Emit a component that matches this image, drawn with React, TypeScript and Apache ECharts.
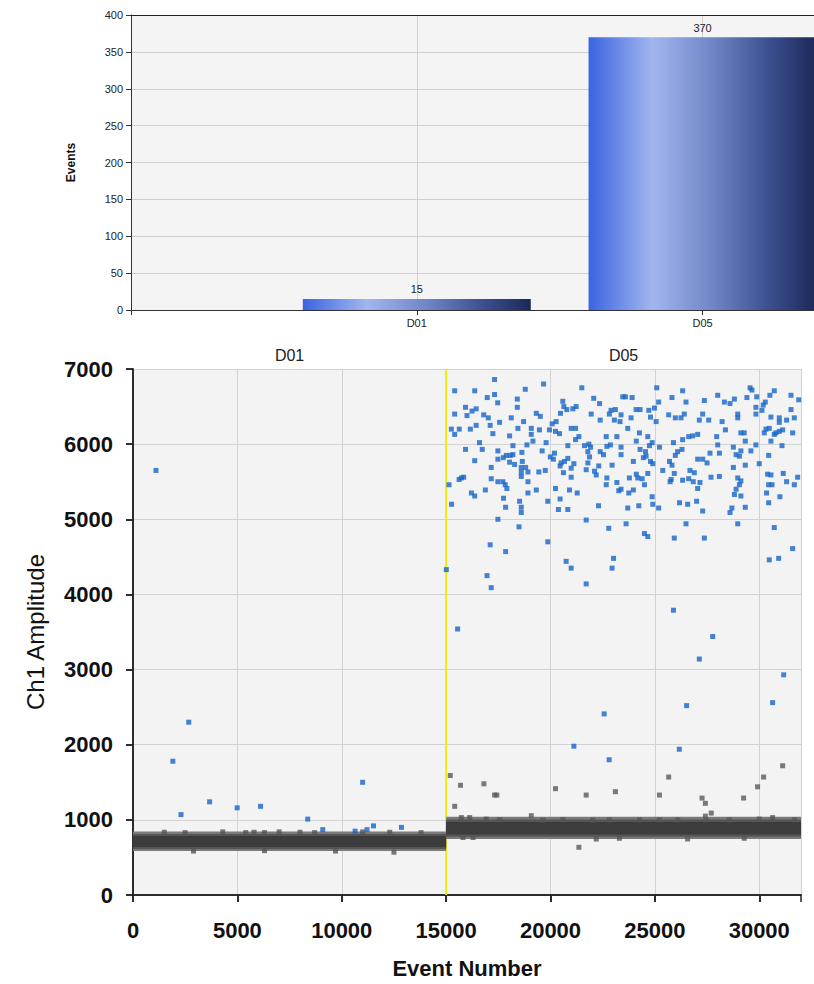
import React, { useEffect, useRef } from 'react';
import * as echarts from 'echarts';

// ---------- data ----------
const wells = ['D01', 'D05'];
const wellEvents = [15, 370];
const wellStart = [0, 15000];
const wellEnd = [15000, 32000];

// negative droplet band (low, high) per well, three density layers
const bandOuter = [[585, 845], [745, 1040]];
const bandMid = [[612, 812], [775, 1005]];
const bandCore = [[640, 785], [805, 970]];

const d01Positive: number[][] = [
  [1100, 5650], [1910, 1780], [2300, 1070], [2670, 2300], [3670, 1240], [4990, 1160], [6110, 1180],
  [8370, 1010], [9090, 870], [10640, 850], [11000, 1500], [11210, 870], [11520, 920], [12860, 900],
];

const d05Positive: number[][] = [
  [17320, 6860], [15410, 6710], [16370, 6710], [18790, 6730], [16970, 6620], [17320, 6660], [18410, 6600], [17470, 6550],
  [15930, 6490], [16440, 6470], [16240, 6440], [16000, 6380], [15410, 6400], [16800, 6390], [17020, 6350], [18410, 6490],
  [18120, 6350], [18710, 6300], [17560, 6290], [16440, 6250], [17110, 6250], [15250, 6200], [15630, 6200], [16160, 6200],
  [15410, 6130], [17240, 6140], [18440, 6210], [19080, 6210], [18040, 6110], [19080, 6130], [19160, 6040], [16600, 6020],
  [18870, 5990], [18200, 5980], [15930, 5930], [16730, 5930], [17480, 5910], [18630, 5890], [17880, 5850], [18070, 5850],
  [18200, 5860], [17740, 5820], [17480, 5800], [16370, 5780], [18040, 5760], [18650, 5770], [18280, 5730], [17160, 5690],
  [18600, 5690], [18810, 5690], [18600, 5630], [18920, 5630], [18600, 5570], [15730, 5550], [15840, 5560], [15620, 5530],
  [17160, 5540], [17480, 5500], [17720, 5500], [17830, 5460], [18920, 5500], [15140, 5460], [17910, 5410], [16880, 5390],
  [16210, 5350], [16370, 5310], [18920, 5350], [17750, 5280], [18520, 5240], [17850, 5160], [18600, 5160], [18600, 5090],
  [15260, 5200], [17480, 5000], [18490, 4900], [17110, 4660], [17850, 4570],
  [19870, 4700], [15010, 4330], [20750, 4440], [20990, 4350], [23020, 4480], [22950, 4350], [16960, 4250], [17160, 4090],
  [21710, 4140], [30480, 4460], [30930, 4480], [31600, 4610], [25890, 3790], [15550, 3540], [27770, 3440], [27130, 3140],
  [31170, 2930], [30640, 2560], [26520, 2520], [22570, 2410], [21120, 1980], [22810, 1800], [26170, 1940],
  [19670, 6800], [21500, 6750], [22070, 6610], [20590, 6570], [22350, 6540], [23460, 6630], [20640, 6500], [21230, 6500],
  [21070, 6470], [20780, 6460], [20480, 6410], [21950, 6400], [22900, 6450], [23110, 6460], [22820, 6400], [23380, 6390],
  [19320, 6410], [19510, 6370], [20270, 6300], [20080, 6270], [22380, 6320], [23060, 6320], [23330, 6300], [20990, 6210],
  [21200, 6210], [19950, 6190], [20240, 6170], [20430, 6140], [19470, 6190], [21360, 6100], [21200, 6060], [22670, 6100],
  [23180, 6100], [19790, 6020], [20830, 5980], [21630, 5980], [21840, 6000], [21920, 5960], [22870, 5990], [22700, 5970],
  [23380, 5960], [19600, 5910], [21790, 5900], [22380, 5900], [22540, 5860], [23380, 5860], [20190, 5880], [19990, 5830],
  [20140, 5800], [20830, 5810], [21870, 5830], [20510, 5750], [20670, 5770], [21120, 5740], [21790, 5750], [22310, 5710],
  [22950, 5720], [20460, 5710], [20990, 5680], [21710, 5660], [22110, 5640], [19440, 5630], [19750, 5650], [20620, 5620],
  [20990, 5560], [22190, 5590], [22700, 5550], [22670, 5460], [23180, 5490], [20240, 5410], [20910, 5390], [21280, 5350],
  [23270, 5380], [23380, 5400], [19320, 5390], [20460, 5270], [19870, 5240], [20380, 5130], [20830, 5130], [22300, 5180],
  [21710, 4990], [22790, 4880],
  [25090, 6750], [26330, 6710], [23590, 6630], [23910, 6620], [25820, 6620], [27370, 6580], [25180, 6560], [26490, 6560],
  [24980, 6480], [24100, 6460], [24290, 6460], [24710, 6450], [27290, 6400], [25660, 6390], [26410, 6400], [25980, 6350],
  [26250, 6350], [24790, 6360], [23860, 6350], [27130, 6320], [27580, 6320], [25060, 6300], [23700, 6210], [24260, 6150],
  [24660, 6100], [26620, 6100], [26810, 6110], [27050, 6130], [26330, 6060], [24110, 6040], [24870, 6020], [25890, 6020],
  [24740, 5980], [25220, 5960], [26300, 5930], [26090, 5900], [27640, 5880], [24550, 5900], [24290, 5930], [24580, 5840],
  [25980, 5850], [27050, 5800], [27290, 5800], [23970, 5770], [24450, 5820], [24790, 5770], [24900, 5740], [25700, 5770],
  [27500, 5750], [25820, 5720], [25380, 5650], [26680, 5650], [26890, 5620], [25930, 5610], [24660, 5610], [24110, 5600],
  [23780, 5550], [24180, 5550], [24390, 5540], [25780, 5530], [26330, 5520], [26620, 5540], [26840, 5500], [27160, 5490],
  [27690, 5560], [25730, 5500], [24500, 5460], [27050, 5410], [23970, 5390], [23750, 5350], [24870, 5300], [27000, 5240],
  [26180, 5220], [26570, 5200], [24230, 5180], [24900, 5200], [25180, 5150], [23700, 5150], [27290, 5110], [23620, 4940],
  [26490, 4940], [24500, 4810], [24660, 4770], [25930, 4750], [27370, 4750],
  [29560, 6750], [29650, 6720], [30720, 6710], [28010, 6650], [31520, 6650], [31890, 6590], [28810, 6600], [28600, 6540],
  [28330, 6560], [29410, 6620], [29880, 6630], [30510, 6650], [30290, 6560], [30190, 6520], [29840, 6490], [31520, 6460],
  [30130, 6450], [28970, 6400], [28970, 6350], [29840, 6400], [30560, 6360], [30960, 6350], [30960, 6290], [31310, 6320],
  [31680, 6350], [28220, 6300], [31600, 6150], [28380, 6190], [30320, 6200], [30480, 6210], [31120, 6190], [30800, 6150],
  [30960, 6170], [29120, 6150], [29280, 6150], [30240, 6150], [30720, 6130], [27960, 6100], [29330, 6040], [30560, 6040],
  [28010, 5990], [29840, 5990], [31090, 5980], [28760, 5960], [29120, 5910], [29600, 5910], [28090, 5880], [28890, 5860],
  [29050, 5840], [30450, 5850], [30000, 5740], [29330, 5720], [28760, 5690], [28090, 5570], [30400, 5600], [30560, 5590],
  [31150, 5610], [31840, 5560], [28970, 5550], [29120, 5510], [29050, 5460], [30450, 5460], [30610, 5460], [31310, 5500],
  [31680, 5460], [28890, 5400], [28810, 5330], [29120, 5310], [30350, 5350], [30990, 5300], [30450, 5220], [29330, 5160],
  [28690, 5150], [28600, 5090], [28970, 4940], [30720, 4890],
];

const negativeOutliers: number[][] = [
  [15200, 1590], [15690, 1460], [15410, 1180], [16810, 1480], [17320, 1330], [17430, 1330], [20240, 1415], [21710, 1330],
  [21360, 635], [23110, 1375], [25220, 1330], [25660, 1570], [26570, 745], [27260, 1290], [27420, 1220], [27420, 1050],
  [27700, 1090], [29250, 1290], [29920, 1440], [30210, 1570], [31120, 1720], [19080, 1055],
];

const bandEdgePoints: number[][] = [
  [1500, 835], [2500, 830], [4300, 840], [5400, 830], [5800, 835], [6300, 830], [7000, 840], [8000, 835], [8700, 830],
  [11000, 840], [12300, 835], [13800, 830], [2900, 585], [6300, 590], [9700, 585], [12500, 570],
  [15730, 1030], [16130, 1030], [16920, 1010], [17560, 1000], [19630, 995], [20590, 1000], [22030, 995], [22820, 1000],
  [24260, 1000], [25220, 1000], [26100, 1000], [27450, 1000], [28570, 1000], [30000, 1010], [30640, 1030], [31680, 1000],
  [15810, 765], [16290, 765], [22190, 745], [23300, 755], [29280, 755],
];

// ---------- component ----------
export default function App() {
  const ref = useRef<HTMLDivElement>(null);

  useEffect(() => {
    if (!ref.current) return;
    const chart = echarts.init(ref.current, null, { renderer: 'svg' });

    const barGradient = new echarts.graphic.LinearGradient(0, 0, 1, 0, [
      { offset: 0, color: '#3a64e2' },
      { offset: 0.28, color: '#a2b6ee' },
      { offset: 0.55, color: '#6e84c6' },
      { offset: 0.8, color: '#3a4e8e' },
      { offset: 1, color: '#1b2959' },
    ]);

    const bandRows: number[][] = [];
    const layers = [bandOuter, bandMid, bandCore];
    layers.forEach((layer, li) => {
      wells.forEach((_, wi) => {
        bandRows.push([wellStart[wi], wellEnd[wi], layer[wi][0], layer[wi][1], li]);
      });
    });
    const layerColors = ['#7a7a7a', '#555555', '#3c3c3c'];

    const font = 'Liberation Sans, Arial, sans-serif';
    const plain = (v: number) => String(v);
    const wellPositions = wells.map((_, i) => i + 1);

    const option: any = {
      animation: false,
      backgroundColor: '#ffffff',
      grid: [
        { left: 131, right: 0, top: 15, bottom: 674, show: true, backgroundColor: '#f4f4f4', borderWidth: 0 },
        { left: 133, right: 13, top: 369, bottom: 86, show: true, backgroundColor: '#f3f3f3', borderWidth: 0 },
      ],
      xAxis: [
        {
          gridIndex: 0, type: 'value', min: 0, max: 2.39, interval: 1,
          axisLine: { show: true, lineStyle: { color: '#333', width: 1 } },
          axisTick: { show: true, length: 5, customValues: [0].concat(wellPositions), lineStyle: { color: '#333' } },
          axisLabel: {
            fontFamily: font, fontSize: 11, color: '#222', margin: 7,
            customValues: wellPositions,
            formatter: (v: number) => wells[v - 1] ?? '',
          },
          splitLine: { show: true, lineStyle: { color: '#cfcfcf' } },
        },
        {
          gridIndex: 0, type: 'value', position: 'top', min: 0, max: 2.39,
          axisLine: { show: true, lineStyle: { color: '#222', width: 1 } },
          axisTick: { show: false }, axisLabel: { show: false }, splitLine: { show: false },
        },
        {
          gridIndex: 1, type: 'value', min: 0, max: 32000, interval: 5000,
          name: 'Event Number', nameLocation: 'middle', nameGap: 62,
          nameTextStyle: { fontFamily: font, fontSize: 22, fontWeight: 'bold', color: '#111' },
          axisLine: { show: true, lineStyle: { color: '#222', width: 1.5 } },
          axisTick: { show: true, length: 7, lineStyle: { color: '#222', width: 1.5 } },
          axisLabel: {
            fontFamily: font, fontSize: 22, fontWeight: 'bold', color: '#111', margin: 24,
            showMaxLabel: false, formatter: plain,
          },
          splitLine: { show: true, lineStyle: { color: '#d2d2d2' } },
        },
        {
          gridIndex: 1, type: 'value', position: 'top', min: 0, max: 32000, interval: 5000,
          axisLine: { show: true, lineStyle: { color: '#222', width: 1.5 } },
          axisTick: { show: true, inside: true, length: 7, lineStyle: { color: '#222', width: 1.5 } },
          axisLabel: { show: false }, splitLine: { show: false },
        },
      ],
      yAxis: [
        {
          gridIndex: 0, type: 'value', min: 0, max: 400, interval: 50,
          name: 'Events', nameLocation: 'middle', nameGap: 54,
          nameTextStyle: { fontFamily: font, fontSize: 12, fontWeight: 'bold', color: '#111' },
          axisLine: { show: true, lineStyle: { color: '#333', width: 1 } },
          axisTick: { show: true, length: 5, lineStyle: { color: '#333' } },
          axisLabel: { fontFamily: font, fontSize: 11, color: '#222', margin: 8 },
          splitLine: { show: true, lineStyle: { color: '#cfcfcf' } },
        },
        {
          gridIndex: 1, type: 'value', min: 0, max: 7000, interval: 1000,
          name: 'Ch1 Amplitude', nameLocation: 'middle', nameGap: 86,
          nameTextStyle: { fontFamily: font, fontSize: 24, color: '#111' },
          axisLine: { show: true, lineStyle: { color: '#222', width: 1.5 } },
          axisTick: { show: true, length: 7, lineStyle: { color: '#222', width: 1.5 } },
          axisLabel: { fontFamily: font, fontSize: 22, fontWeight: 'bold', color: '#111', margin: 20, formatter: plain },
          splitLine: { show: true, lineStyle: { color: '#d2d2d2' } },
        },
        {
          gridIndex: 1, type: 'value', position: 'right', min: 0, max: 7000, interval: 1000,
          axisLine: { show: true, lineStyle: { color: '#222', width: 1.5 } },
          axisTick: { show: true, inside: true, length: 7, lineStyle: { color: '#222', width: 1.5 } },
          axisLabel: { show: false }, splitLine: { show: false },
        },
      ],
      series: [
        {
          type: 'bar', xAxisIndex: 0, yAxisIndex: 0, barWidth: 228,
          data: wells.map((_, i) => [i + 1, wellEvents[i]]),
          itemStyle: { color: barGradient },
          label: { show: true, position: 'top', distance: 4, fontFamily: font, fontSize: 11, color: '#222' },
        },
        {
          type: 'line', xAxisIndex: 2, yAxisIndex: 1, z: 1, symbol: 'none',
          data: [[wellStart[1], 0], [wellStart[1], 7000]],
          lineStyle: { color: '#e8ee10', width: 2 },
          markArea: {
            silent: true,
            itemStyle: { color: 'rgba(0,0,0,0)' },
            label: { show: true, position: 'top', distance: 6, fontFamily: font, fontSize: 16, color: '#222' },
            data: wells.map((w, i) => [
              { name: w, xAxis: wellStart[i], yAxis: 0 },
              { xAxis: wellEnd[i], yAxis: 7000 },
            ]),
          },
        },
        {
          type: 'custom', xAxisIndex: 2, yAxisIndex: 1, z: 2,
          encode: { x: [0, 1], y: [2, 3] },
          data: bandRows,
          renderItem: (params: any, api: any) => {
            const p0 = api.coord([api.value(0), api.value(3)]);
            const p1 = api.coord([api.value(1), api.value(2)]);
            return {
              type: 'rect',
              shape: { x: p0[0], y: p0[1], width: p1[0] - p0[0], height: p1[1] - p0[1] },
              style: { fill: layerColors[api.value(4)] },
            };
          },
        },
        {
          type: 'scatter', xAxisIndex: 2, yAxisIndex: 1, z: 3, symbol: 'rect', symbolSize: 5,
          data: bandEdgePoints, itemStyle: { color: '#555555' },
        },
        {
          type: 'scatter', xAxisIndex: 2, yAxisIndex: 1, z: 3, symbol: 'rect', symbolSize: 5,
          data: negativeOutliers, itemStyle: { color: '#5a5a5a' },
        },
        {
          type: 'scatter', xAxisIndex: 2, yAxisIndex: 1, z: 4, symbol: 'rect', symbolSize: 5,
          data: d01Positive.concat(d05Positive), itemStyle: { color: '#1565c8' },
        },
      ],
    };

    chart.setOption(option);
    return () => chart.dispose();
  }, []);

  return (
    <div
      ref={ref}
      style={{ position: 'absolute', left: 0, top: 0, width: 814, height: 984 }}
    />
  );
}
